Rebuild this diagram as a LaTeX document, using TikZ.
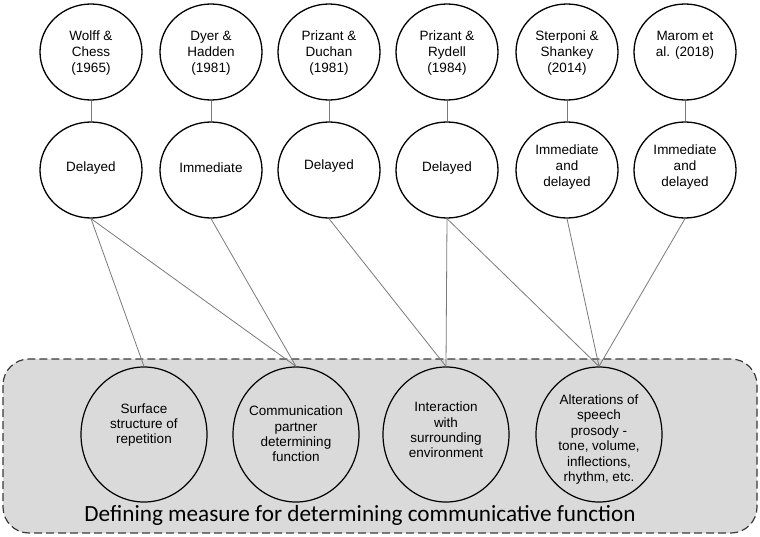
\documentclass[tikz,border=0pt]{standalone}
\usepackage{fontspec}
\setmainfont{Liberation Sans}
\newfontfamily\titlefont{Carlito}
\usetikzlibrary{shapes.geometric}
\definecolor{boxfill}{HTML}{DADADA}
\definecolor{boxline}{HTML}{3A3A3A}
\definecolor{linkgray}{HTML}{7A7A7A}
\tikzset{
  circsmall/.style={ellipse, draw=black, line width=1.3pt, minimum width=102pt, minimum height=96pt, inner sep=0pt},
  circbig/.style={ellipse, draw=black, line width=1.2pt, minimum width=126pt, minimum height=135pt, inner sep=0pt},
  txtsmall/.style={align=center, font=\fontsize{13.5}{16}\selectfont, inner sep=0pt},
  txtbig/.style={align=center, font=\fontsize{13.5}{15.4}\selectfont, inner sep=0pt},
  link/.style={draw=linkgray, line width=0.8pt},
  measurebox/.style={draw=boxline, fill=boxfill, line width=1.2pt, dash pattern=on 8pt off 4pt, rounded corners=26pt}
}
\begin{document}
\begin{tikzpicture}[x=1pt,y=-1pt]
\useasboundingbox (0,0) rectangle (760,536);
% dashed background box
\draw[measurebox] (3,359) rectangle (757,533);

% top row
\foreach \n/\x in {1/91,2/211,3/329,4/447,5/567,6/685}{
  \node[circsmall] (t\n) at (\x,52) {};
  \node[circsmall] (d\n) at (\x,170) {};
}
\node[txtsmall] at (91,53) {Wolff \&\\Chess\\(1965)};
\node[txtsmall] at (211,53) {Dyer \&\\Hadden\\(1981)};
\node[txtsmall] at (329,53) {Prizant \&\\Duchan\\(1981)};
\node[txtsmall] at (447,53) {Prizant \&\\Rydell\\(1984)};
\node[txtsmall] at (567,53) {Sterponi \&\\Shankey\\(2014)};
\node[txtsmall] at (685,45) {Marom et\\al. (2018)};

\node[txtsmall] at (91,168) {Delayed};
\node[txtsmall] at (211,168) {Immediate};
\node[txtsmall] at (329,166) {Delayed};
\node[txtsmall] at (447,168) {Delayed};
\node[txtsmall] at (567,167) {Immediate\\and\\delayed};
\node[txtsmall] at (685,167) {Immediate\\and\\delayed};

% bottom row
\node[circbig] (b1) at (144,434.5) {};
\node[circbig] (b2) at (296,434.5) {};
\node[circbig] (b3) at (446,434.5) {};
\node[circbig] (b4) at (599,434.5) {};
\node[txtbig] at (144,425) {Surface\\structure of\\repetition};
\node[txtbig] at (296,434) {Communication\\partner\\determining\\function};
\node[txtbig] at (446,430) {Interaction\\with\\surrounding\\environment};
\node[txtbig] at (599,439.5) {Alterations of\\speech\\prosody -\\tone, volume,\\inflections,\\rhythm, etc.};

\node[anchor=base, inner sep=0pt, font=\titlefont\fontsize{23.2}{27}\selectfont] (title) at (360,521) {Defining measure for determining communicative function};

% connectors
\foreach \n in {1,...,6}{ \draw[link] (t\n.south) -- (d\n.north); }
\draw[link] (d1.south) -- (b1.north);
\draw[link] (d1.south) -- (b2.north);
\draw[link] (d2.south) -- (b2.north);
\draw[link] (d3.south) -- (b3.north);
\draw[link] (d4.south) -- (b3.north);
\draw[link] (d4.south) -- (b4.north);
\draw[link] (d5.south) -- (b4.north);
\draw[link] (d6.south) -- (b4.north);
\end{tikzpicture}
\end{document}
